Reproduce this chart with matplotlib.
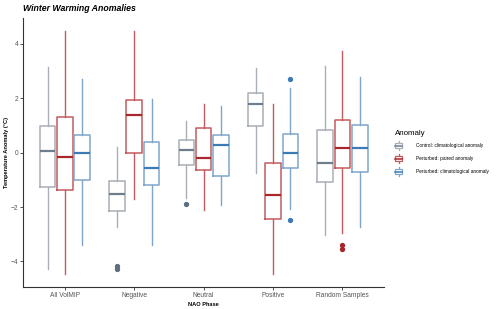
import matplotlib
matplotlib.use("Agg")
import matplotlib.pyplot as plt
from matplotlib.legend_handler import HandlerBase
from matplotlib.lines import Line2D
from matplotlib.patches import Rectangle, Patch

plt.rcParams["font.family"] = ["Liberation Sans", "DejaVu Sans"]

categories = ["All VolMIP", "Negative", "Neutral", "Positive", "Random Samples"]
series = ["Control: climatological anomaly", "Perturbed: paired anomaly", "Perturbed: climatological anomaly"]

# per series, per category: [whislo, q1, med, q3, whishi]
control = [[-4.27, -1.25, 0.05, 0.99, 3.13],
           [-2.73, -2.16, -1.52, -1.04, 0.20],
           [-1.67, -0.45, 0.10, 0.47, 1.17],
           [-0.75, 0.97, 1.77, 2.19, 3.11],
           [-3.04, -1.09, -0.38, 0.84, 3.19]]
paired = [[-4.45, -1.38, -0.16, 1.31, 4.46],
          [-1.72, -0.01, 1.39, 1.94, 4.46],
          [-2.12, -0.63, -0.21, 0.91, 1.78],
          [-4.45, -2.43, -1.54, -0.39, 1.78],
          [-2.97, -0.56, 0.18, 1.19, 3.72]]
pert_clim = [[-3.41, -1.02, -0.01, 0.65, 2.69],
             [-3.41, -1.20, -0.57, 0.39, 1.96],
             [-1.92, -0.86, 0.27, 0.65, 1.72],
             [-2.06, -0.55, -0.03, 0.70, 2.36],
             [-2.73, -0.73, 0.18, 1.03, 2.79]]
control_out = [[], [-4.18, -4.28], [-1.89], [], []]
paired_out = [[], [], [], [], [-3.40, -3.55]]
pert_clim_out = [[], [], [], [2.70, -2.49], []]

all_stats = [control, paired, pert_clim]
all_out = [control_out, paired_out, pert_clim_out]
edge_cols = ["#A8AFB6", "#C35A5F", "#7FA6C9"]
med_cols = ["#6E7E8D", "#A8262C", "#3D7BB7"]
out_cols = ["#5E6E7E", "#A8262C", "#3D7BB7"]

fig = plt.figure(figsize=(5.0, 3.09), dpi=100)
ax = fig.add_axes([0.0466, 0.0702, 0.7214, 0.8718])

offsets = [-0.25, 0.0, 0.25]
for s in range(3):
    stats = []
    for c in range(5):
        lo, q1, med, q3, hi = all_stats[s][c]
        stats.append(dict(whislo=lo, q1=q1, med=med, q3=q3, whishi=hi,
                          fliers=all_out[s][c]))
    pos = [c + 1 + offsets[s] for c in range(5)]
    ec = edge_cols[s]
    ax.bxp(stats, positions=pos, widths=0.225, showcaps=False,
           boxprops=dict(color=ec, linewidth=1.1),
           whiskerprops=dict(color=ec, linewidth=1.0),
           medianprops=dict(color=med_cols[s], linewidth=1.6),
           flierprops=dict(marker="o", markersize=2.8, markerfacecolor=out_cols[s],
                           markeredgecolor=out_cols[s], linestyle="none"),
           manage_ticks=False)

ax.set_xlim(0.4, 5.6)
ax.set_ylim(-4.95, 4.95)
ax.set_xticks(range(1, 6))
ax.set_xticklabels(categories)
ax.set_yticks([-4, -2, 0, 2, 4])
ax.tick_params(axis="both", labelsize=4.8, colors="#333333", labelcolor="#555555",
               length=2.2, width=0.6, pad=1.5)
for sp in ["top", "right"]:
    ax.spines[sp].set_visible(False)
for sp in ["left", "bottom"]:
    ax.spines[sp].set_color("#333333")
    ax.spines[sp].set_linewidth(0.8)

ax.set_xlabel("NAO Phase", fontsize=4.1, fontweight="bold", labelpad=1.5)
ax.set_ylabel("Temperature Anomaly (°C)", fontsize=4.1, fontweight="bold", labelpad=0.8)
fig.text(0.046, 0.972, "Winter Warming Anomalies", fontsize=6.3, fontweight="bold",
         fontstyle="italic", va="center", ha="left")


class BoxHandler(HandlerBase):
    def __init__(self, ec, mc):
        super().__init__()
        self.ec = ec
        self.mc = mc

    def create_artists(self, legend, orig_handle, xdescent, ydescent, width, height,
                       fontsize, trans):
        cx = -xdescent + width / 2
        bw = width * 0.9
        y0 = -ydescent
        rect = Rectangle((cx - bw / 2, y0 + height * 0.22), bw, height * 0.56,
                         facecolor="white", edgecolor=self.ec, linewidth=0.9,
                         transform=trans)
        w1 = Line2D([cx, cx], [y0 - height * 0.02, y0 + height * 0.22], color=self.ec,
                    linewidth=0.9, transform=trans)
        w2 = Line2D([cx, cx], [y0 + height * 0.78, y0 + height * 1.02], color=self.ec,
                    linewidth=0.9, transform=trans)
        m = Line2D([cx - bw / 2, cx + bw / 2], [y0 + height * 0.5] * 2, color=self.mc,
                   linewidth=1.1, transform=trans)
        return [w1, w2, rect, m]


handles = [Patch(label=series[i]) for i in range(3)]
hmap = {handles[i]: BoxHandler(edge_cols[i], med_cols[i]) for i in range(3)}
leg = fig.legend(handles=handles, handler_map=hmap, title="Anomaly",
                 loc="upper left", bbox_to_anchor=(0.79, 0.578), frameon=False,
                 fontsize=3.4, title_fontsize=5.7, handlelength=1.6, handleheight=2.5,
                 handletextpad=2.8, labelspacing=0.85, borderaxespad=0, borderpad=0)
leg._legend_box.align = "left"

fig.savefig("out.png", dpi=100)
